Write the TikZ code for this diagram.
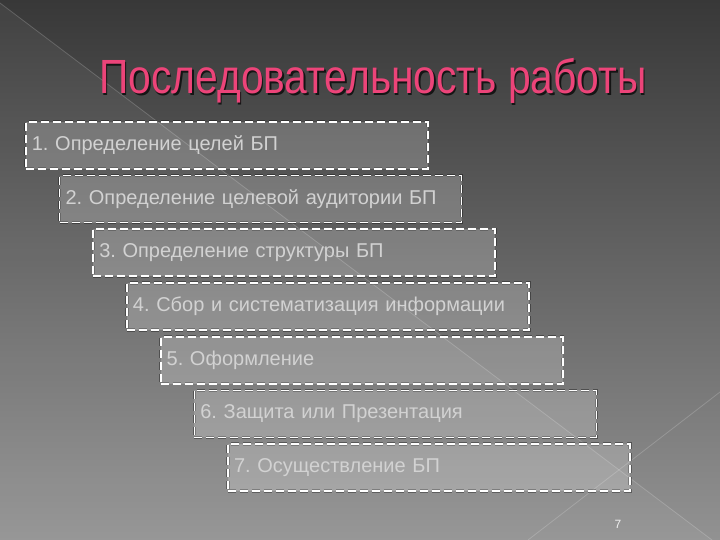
\documentclass[tikz,border=0pt]{standalone}
\usepackage{fontspec}
\setmainfont{Liberation Sans}
\usetikzlibrary{positioning}
\frenchspacing

\definecolor{bgtop}{HTML}{383838}
\definecolor{bgbottom}{HTML}{929292}
\definecolor{titlepink}{HTML}{EC4479}
\definecolor{steptext}{HTML}{D2D2D2}

\tikzset{
  stepbox/.style={rectangle, anchor=north west, minimum width=402pt, minimum height=47pt,
    text width=390pt, inner xsep=6pt, align=left,
    fill=white, fill opacity=0.2, text opacity=1, text=steptext,
    font=\fontsize{20}{24}\selectfont,
    preaction={draw=black, draw opacity=0.35, line width=3.2pt},
    draw=white, line width=1.7pt, dash pattern=on 8pt off 4pt},
  titletext/.style={font=\fontsize{48}{52}\selectfont, inner sep=0pt, anchor=base},
}

\begin{document}
\begin{tikzpicture}[x=1pt,y=-1pt]
    \useasboundingbox (0,0) rectangle (720,540);
    % background
    \shade[top color=bgtop, bottom color=bgbottom] (0,0) rectangle (720,540);
    \fill[white, opacity=0.05] (0,3) -- (712,540) -- (0,540) -- cycle;
    \draw[white, opacity=0.18, line width=0.8pt] (0,3) -- (712,540);
    \draw[white, opacity=0.18, line width=0.8pt] (528,540) -- (720,392);

    % title
    \node[titletext, text=black, opacity=0.7] (title shadow) at (374.5,95.5) {\scalebox{0.85}[1]{Последовательность работы}};
    \node[titletext, text=titlepink] (title) at (373,94) {\scalebox{0.85}[1]{Последовательность работы}};

    % steps
    \foreach \label [count=\i] in {1. Определение целей БП,
        2. Определение целевой аудитории БП,
        3. Определение структуры БП,
        4. Сбор и систематизация информации,
        5. Оформление,
        6. Защита или Презентация,
        7. Осуществление БП}
      \node[stepbox] (s\i) at ({25+33.7*(\i-1)}, {121+53.7*(\i-1)}) {\label};

    % page number
    \node[text=white!88!gray, font=\fontsize{12}{13}\selectfont] (page) at (618,524) {7};
\end{tikzpicture}
\end{document}
